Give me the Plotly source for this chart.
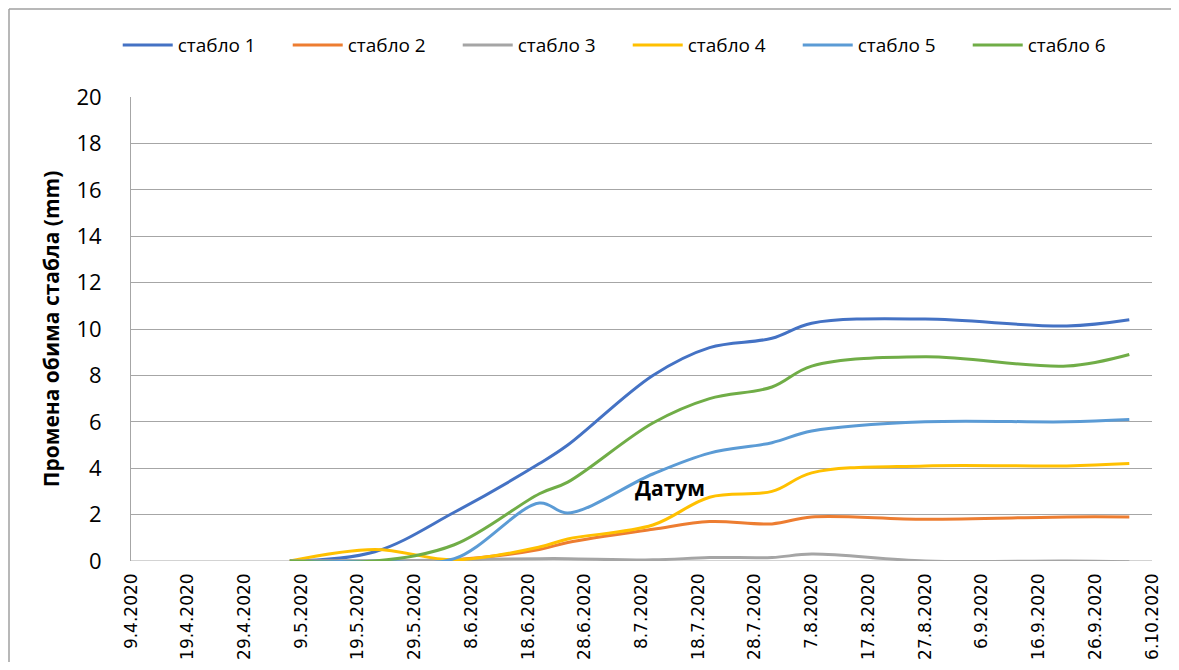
import plotly.graph_objects as go

# measurement dates and stem circumference change (mm) per tree
dates = ["2020-05-07", "2020-05-22", "2020-06-05", "2020-06-20", "2020-06-25",
         "2020-07-10", "2020-07-20", "2020-07-31", "2020-08-07", "2020-08-27",
         "2020-09-21", "2020-10-02"]

stablo1 = [0, 0.4, 2.1, 4.2, 5.0, 8.0, 9.2, 9.6, 10.25, 10.43, 10.13, 10.4]
stablo2 = [0, 0, 0.05, 0.5, 0.8, 1.37, 1.7, 1.6, 1.9, 1.8, 1.9, 1.9]
stablo3 = [0, 0, 0.05, 0.1, 0.1, 0.05, 0.15, 0.15, 0.3, 0.0, 0.0, -0.03]
stablo4 = [0, 0.5, 0.05, 0.6, 0.95, 1.55, 2.75, 3.0, 3.8, 4.1, 4.1, 4.2]
stablo5 = [0, 0, 0.1, 2.5, 2.07, 3.75, 4.65, 5.1, 5.6, 6.0, 6.0, 6.1]
stablo6 = [0, 0, 0.7, 2.9, 3.4, 5.95, 7.0, 7.5, 8.4, 8.8, 8.4, 8.9]

names = ["стабло 1", "стабло 2", "стабло 3", "стабло 4", "стабло 5", "стабло 6"]
colors = ["#4472C4", "#ED7D31", "#A5A5A5", "#FFC000", "#5B9BD5", "#70AD47"]
series = [stablo1, stablo2, stablo3, stablo4, stablo5, stablo6]

font_main = "Open Sans, Liberation Sans, sans-serif"
font_narrow = "Liberation Sans Narrow, Open Sans, sans-serif"

fig = go.Figure()
for name, color, vals in zip(names, colors, series):
    fig.add_trace(
        go.Scatter(
            x=dates,
            y=vals,
            name=name,
            mode="lines",
            line=dict(color=color, width=3, shape="spline", smoothing=1),
        )
    )

border = dict(color="#A0A0A0", width=1.5)

# page has an 8px body margin on every side, keep the figure inside the window
fig.update_layout(
    width=1163,
    height=654,
    margin=dict(l=123, r=19, t=89, b=101),
    paper_bgcolor="white",
    plot_bgcolor="white",
    font=dict(family=font_main, color="black"),
    showlegend=True,
    legend=dict(
        orientation="h",
        x=-0.013,
        y=1.112,
        xanchor="left",
        yanchor="middle",
        font=dict(size=19, family=font_narrow),
        entrywidth=105,
        entrywidthmode="pixels",
        itemwidth=50,
    ),
    xaxis=dict(
        type="date",
        range=["2020-04-09", "2020-10-06"],
        tick0="2020-04-09",
        dtick=10 * 24 * 3600 * 1000,
        tickformat="%-d.%-m.%Y",
        tickangle=-90,
        tickfont=dict(family="DejaVu Sans", size=17),
        ticklabelstandoff=8,
        showgrid=False,
        showline=False,
        zeroline=False,
        ticks="",
        automargin=False,
    ),
    yaxis=dict(
        range=[0, 20],
        dtick=2,
        showgrid=True,
        gridcolor="#A6A6A6",
        gridwidth=1,
        zeroline=False,
        showline=True,
        linecolor="#A6A6A6",
        linewidth=1,
        tickfont=dict(size=22, family=font_narrow),
        ticklabelstandoff=24,
        automargin=False,
        title=dict(
            text="<b>Промена обима стабла (mm)</b>",
            font=dict(size=21, family=font_main),
            standoff=11,
        ),
    ),
    annotations=[
        dict(
            text="<b>Датум</b>",
            x=0.528,
            y=0.157,
            xref="paper",
            yref="paper",
            xanchor="center",
            yanchor="middle",
            showarrow=False,
            font=dict(size=21, family=font_main),
        )
    ],
    shapes=[
        # chart-area frame: only its left and top edges fall inside the picture
        dict(type="line", xref="paper", yref="paper",
             x0=-122 / 1021, x1=-122 / 1021, y0=-110 / 464, y1=552 / 464, line=border),
        dict(type="line", xref="paper", yref="paper",
             x0=-122 / 1021, x1=1040 / 1021, y0=552 / 464, y1=552 / 464, line=border),
        dict(
            type="line",
            xref="paper",
            yref="y",
            x0=0,
            x1=1,
            y0=0,
            y1=0,
            line=dict(color="#A6A6A6", width=1),
            layer="below",
        ),
    ],
)

fig.write_html("out.html")
